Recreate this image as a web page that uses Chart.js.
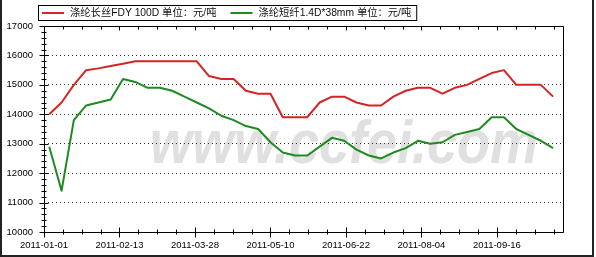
<!DOCTYPE html>
<html>
<head>
<meta charset="utf-8">
<script src="https://cdn.jsdelivr.net/npm/chart.js@4"></script>
<style>
  html, body { margin: 0; padding: 0; background: #fff; }
  canvas { display: block; }
</style>
</head>
<body>
<canvas id="chart" width="596" height="257"></canvas>
<script>
// weekly quotes, 2011
const dates = [
  '2011-01-04', '2011-01-11', '2011-01-18', '2011-01-25', '2011-02-01', '2011-02-08', '2011-02-15',
  '2011-02-22', '2011-03-01', '2011-03-08', '2011-03-15', '2011-03-22', '2011-03-29', '2011-04-05',
  '2011-04-12', '2011-04-19', '2011-04-26', '2011-05-03', '2011-05-10', '2011-05-17', '2011-05-24',
  '2011-05-31', '2011-06-07', '2011-06-14', '2011-06-21', '2011-06-28', '2011-07-05', '2011-07-12',
  '2011-07-19', '2011-07-26', '2011-08-02', '2011-08-09', '2011-08-16', '2011-08-23', '2011-08-30',
  '2011-09-06', '2011-09-13', '2011-09-20', '2011-09-27', '2011-10-04', '2011-10-11', '2011-10-18'
];
const fdyPrices = [
  14000, 14400, 15000, 15500, 15560, 15640, 15720, 15800, 15800, 15800, 15800, 15800, 15800, 15300,
  15200, 15200, 14800, 14700, 14700, 13900, 13900, 13900, 14400, 14600, 14600, 14400, 14300, 14300,
  14600, 14800, 14900, 14900, 14700, 14900, 15000, 15200, 15400, 15500, 15000, 15000, 15000, 14600
];
const psfPrices = [
  12900, 11400, 13800, 14300, 14400, 14500, 15200, 15100, 14900, 14900, 14800, 14600, 14400, 14200,
  13950, 13800, 13600, 13500, 13050, 12700, 12600, 12600, 12900, 13200, 13100, 12800, 12600, 12500,
  12700, 12850, 13100, 13000, 13050, 13300, 13400, 13500, 13900, 13900, 13500, 13300, 13100, 12850
];
const seriesNames = ['涤纶长丝FDY 100D 单位：元/吨', '涤纶短纤1.4D*38mm 单位：元/吨'];
const seriesColors = ['#d42424', '#1f8a22'];
const tickLabels = ['2011-01-01', '2011-02-13', '2011-03-28', '2011-05-10', '2011-06-22', '2011-08-04', '2011-09-16'];
const yMin = 10000, yMax = 17000;

const minorStep = 43 / 4;   // 4 minor ticks between labels
const xMax = 27.5 * minorStep;

function dayOf(s) {
  const p = s.split('-');
  return (Date.UTC(+p[0], +p[1] - 1, +p[2]) - Date.UTC(2011, 0, 1)) / 86400000;
}
function toPoints(values) {
  return values.map((v, i) => ({ x: dayOf(dates[i]), y: v }));
}

const font = '"Liberation Sans", Arial, "Noto Sans CJK SC", sans-serif';

const decor = {
  id: 'decor',
  beforeDraw(chart) {
    const ctx = chart.ctx;
    ctx.save();
    ctx.fillStyle = '#fff';
    ctx.fillRect(0, 0, chart.width, chart.height);
    // watermark
    ctx.font = 'italic bold 54px "Liberation Sans", Arial, sans-serif';
    const w = ctx.measureText('www.ccfei.com').width;
    ctx.translate(150, 163);
    ctx.scale(388 / w, 1.12);
    ctx.fillStyle = '#e0e0e0';
    ctx.fillText('www.ccfei.com', 0, 0);
    ctx.restore();
  },
  afterDraw(chart) {
    const ctx = chart.ctx, a = chart.chartArea;
    const xs = chart.scales.x, ys = chart.scales.y;
    const L = Math.round(a.left) + 0.5, R = Math.round(a.right) + 0.5;
    const T = Math.round(a.top) + 0.5, B = Math.round(a.bottom) + 0.5;
    ctx.save();
    ctx.lineWidth = 1;
    ctx.strokeStyle = '#000';
    ctx.beginPath();
    ctx.moveTo(L, T); ctx.lineTo(R, T); ctx.lineTo(R, B); ctx.lineTo(L, B); ctx.closePath();
    for (let k = 0; k * minorStep <= xs.max; k++) {
      const px = Math.round(xs.getPixelForValue(k * minorStep)) + 0.5;
      const major = k % 4 === 0;
      ctx.moveTo(px, B - (major ? 5 : 3)); ctx.lineTo(px, B + (major ? 5 : 2));
      ctx.moveTo(px, T); ctx.lineTo(px, T + (major ? 4 : 3));
    }
    for (let v = ys.min; v <= ys.max; v += 200) {
      const py = Math.round(ys.getPixelForValue(v)) + 0.5;
      const major = v % 1000 === 0;
      ctx.moveTo(L - (major ? 5 : 3), py); ctx.lineTo(L + (major ? 4 : 2), py);
    }
    ctx.stroke();

    // legend
    ctx.font = '10.3px ' + font;
    ctx.textBaseline = 'middle';
    let x = 42;
    const ly = 13;
    chart.data.datasets.forEach((ds, i) => {
      ctx.strokeStyle = ds.borderColor;
      ctx.lineWidth = 2;
      ctx.beginPath();
      ctx.moveTo(x, ly); ctx.lineTo(x + 22, ly);
      ctx.stroke();
      x += 28;
      ctx.fillStyle = '#111';
      ctx.fillText(ds.label, x, ly);
      x += ctx.measureText(ds.label).width + 14;
    });
    ctx.lineWidth = 1;
    ctx.strokeStyle = '#000';
    ctx.strokeRect(38.5, 5.5, x - 14 + 5 - 38, 15);

    // outer frame
    ctx.fillStyle = '#222';
    ctx.fillRect(0, 0, 2, 257);
    ctx.fillRect(0, 255, 594, 2);
    ctx.fillRect(592, 0, 2, 257);
    ctx.restore();
  }
};

new Chart(document.getElementById('chart'), {
  type: 'line',
  data: {
    datasets: [
      { label: seriesNames[0], data: toPoints(fdyPrices), borderColor: seriesColors[0] },
      { label: seriesNames[1], data: toPoints(psfPrices), borderColor: seriesColors[1] }
    ]
  },
  options: {
    responsive: false,
    devicePixelRatio: 1,
    animation: false,
    layout: { padding: { left: 0, top: 26, right: 33, bottom: 0 } },
    elements: {
      line: { borderWidth: 2, tension: 0, borderJoinStyle: 'round' },
      point: { radius: 0 }
    },
    plugins: { legend: { display: false }, tooltip: { enabled: false } },
    scales: {
      x: {
        type: 'linear',
        min: 0,
        max: xMax,
        afterBuildTicks: s => { s.ticks = tickLabels.map(t => ({ value: dayOf(t) })); },
        afterFit: s => { s.height = 25; },
        grid: { display: false, drawTicks: false },
        border: { display: false },
        ticks: {
          autoSkip: false,
          maxRotation: 0,
          padding: 8,
          color: '#000',
          font: { family: font, size: 9.5 },
          callback: (v, i) => tickLabels[i]
        }
      },
      y: {
        min: yMin,
        max: yMax,
        afterFit: s => { s.width = 44; },
        grid: {
          drawTicks: false,
          color: c => (c.tick && (c.tick.value === yMin || c.tick.value === yMax)) ? 'rgba(0,0,0,0)' : '#333',
          lineWidth: 1
        },
        border: { display: false, dash: [1, 3] },
        ticks: {
          stepSize: 1000,
          padding: 11,
          color: '#000',
          font: { family: font, size: 9.5 },
          callback: v => String(v)
        }
      }
    }
  },
  plugins: [decor]
});
</script>
</body>
</html>
